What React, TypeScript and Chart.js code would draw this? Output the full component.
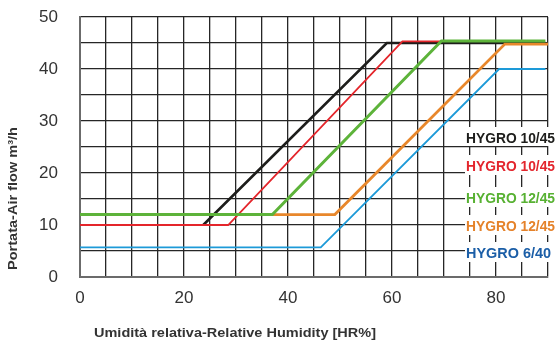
import React, { useEffect, useRef } from "react";
import { Chart, registerables } from "chart.js";

Chart.register(...registerables);

// Axis ranges / ticks
const X_MIN = 0;
const X_MAX = 90;
const Y_MIN = 0;
const Y_MAX = 50;
const GRID_STEP = 5;
const X_LABEL_STEP = 20;
const Y_LABEL_STEP = 10;

// Series (Relative humidity % -> air flow m3/h)
const blackX = [23.7, 59, 89.5];
const blackY = [10, 45, 45];
const redX = [0, 28.5, 62, 69.5];
const redY = [10, 10, 45.3, 45.3];
const greenX = [0, 37, 69.5, 89.5];
const greenY = [12, 12, 45.4, 45.4];
const orangeX = [0, 49, 81.7, 90];
const orangeY = [12, 12, 44.8, 44.8];
const blueX = [0, 46.3, 80.6, 89.5];
const blueY = [5.7, 5.7, 40, 40];

const legendLabels = ["HYGRO 10/45", "HYGRO 10/45", "HYGRO 12/45", "HYGRO 12/45", "HYGRO 6/40"];
const legendColors = ["#1d1d1b", "#e3262d", "#57b132", "#e5822a", "#1b5ea7"];

const xTitle = "Umidità relativa-Relative Humidity [HR%]";
const yTitle = "Portata-Air flow m³/h";

const pts = (xs: number[], ys: number[]) => xs.map((x, i) => ({ x, y: ys[i] }));

export default function App() {
  const ref = useRef<HTMLCanvasElement | null>(null);

  useEffect(() => {
    document.body.style.margin = "0";
    const canvas = ref.current;
    if (!canvas) return;

    const drawFitted = (ctx: any, text: string, x: number, y: number, target: number) => {
      const w = ctx.measureText(text).width;
      ctx.save();
      ctx.translate(x, y);
      ctx.scale(target / w, 1);
      ctx.fillText(text, 0, 0);
      ctx.restore();
    };

    const overlay = {
      id: "overlay",
      afterDatasetsDraw(chart: any) {
        const { ctx, chartArea } = chart;
        const ca = chartArea;
        ctx.save();
        const centers = [139, 111, 79, 51, 24].map((o) => ca.bottom - o);
        const left = ca.right - 83;
        centers.forEach((c, i) => {
          ctx.fillStyle = "#ffffff";
          const top = c - 11;
          const bot = i === 0 ? c + 8 : c + 9;
          ctx.fillRect(left, top, chart.width - left, bot - top);
        });
        ctx.font = 'bold 15px "Liberation Sans", Arial, sans-serif';
        ctx.textBaseline = "middle";
        ctx.textAlign = "left";
        centers.forEach((c, i) => {
          ctx.fillStyle = legendColors[i];
          drawFitted(ctx, legendLabels[i], left + 1, c + 0.5, i === 4 ? 85 : 89);
        });
        ctx.restore();
      },
      afterDraw(chart: any) {
        const { ctx } = chart;
        ctx.save();
        ctx.fillStyle = "#333333";
        ctx.font = 'bold 13px "Liberation Sans", Arial, sans-serif';
        ctx.textAlign = "left";
        ctx.textBaseline = "middle";
        drawFitted(ctx, xTitle, 94, 333, 282);
        ctx.translate(13, 270);
        ctx.rotate(-Math.PI / 2);
        drawFitted(ctx, yTitle, 0, 0, 143);
        ctx.restore();
      },
    };

    const mk = (label: string, xs: number[], ys: number[], color: string, width: number, order: number) => ({
      label,
      data: pts(xs, ys),
      borderColor: color,
      backgroundColor: color,
      borderWidth: width,
      pointRadius: 0,
      tension: 0,
      fill: false,
      order,
      borderJoinStyle: "miter" as const,
    });

    const chart = new Chart(canvas, {
      type: "line",
      data: {
        datasets: [
          mk("HYGRO 10/45 (black)", blackX, blackY, "#1d1d1b", 2.6, 5),
          mk("HYGRO 10/45 (red)", redX, redY, "#e4252b", 1.8, 4),
          mk("HYGRO 12/45 (orange)", orangeX, orangeY, "#e8872b", 2.8, 3),
          mk("HYGRO 12/45 (green)", greenX, greenY, "#5db33a", 3, 1),
          mk("HYGRO 6/40", blueX, blueY, "#1d9ad8", 1.8, 2),
        ],
      },
      options: {
        responsive: false,
        animation: false,
        events: [],
        layout: { padding: { top: 17, right: 9, left: 0, bottom: 0 }, autoPadding: false },
        plugins: { legend: { display: false }, tooltip: { enabled: false }, title: { display: false } },
        scales: {
          x: {
            type: "linear",
            min: X_MIN,
            max: X_MAX,
            afterFit: (s: any) => {
              s.height = 68;
              s.paddingLeft = 0;
              s.paddingRight = 0;
            },
            grid: { color: "#262626", lineWidth: 1.3, drawTicks: false },
            border: { display: true, color: "#6b6b6b", width: 2 },
            ticks: {
              stepSize: GRID_STEP,
              autoSkip: false,
              maxRotation: 0,
              padding: 11,
              color: "#333333",
              font: { family: '"Liberation Sans", Arial, sans-serif', size: 17 },
              callback: (v: any) => (Number(v) % X_LABEL_STEP === 0 ? String(v) : ""),
            },
          },
          y: {
            min: Y_MIN,
            max: Y_MAX,
            afterFit: (s: any) => {
              s.width = 80;
              s.paddingTop = 0;
              s.paddingBottom = 0;
            },
            grid: { color: "#262626", lineWidth: 1.3, drawTicks: false },
            border: { display: true, color: "#6b6b6b", width: 2 },
            ticks: {
              stepSize: GRID_STEP,
              autoSkip: false,
              padding: 22,
              color: "#333333",
              font: { family: '"Liberation Sans", Arial, sans-serif', size: 17 },
              callback: (v: any) => (Number(v) % Y_LABEL_STEP === 0 ? String(v) : ""),
            },
          },
        },
      },
      plugins: [overlay],
    } as any);

    return () => chart.destroy();
  }, []);

  return (
    <div style={{ position: "relative", width: 557, height: 345, background: "#fff" }}>
      <canvas ref={ref} width={557} height={345} style={{ display: "block" }} />
    </div>
  );
}
